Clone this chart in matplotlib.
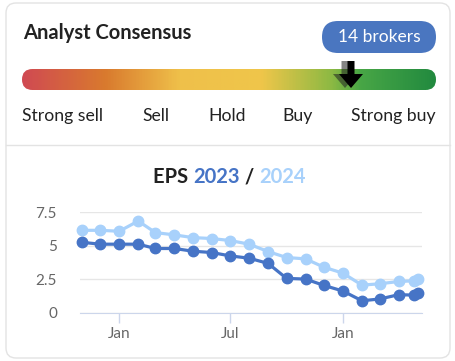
import matplotlib
matplotlib.use("Agg")
import matplotlib.pyplot as plt
from matplotlib.patches import FancyBboxPatch, Polygon
from matplotlib.colors import LinearSegmentedColormap
import numpy as np

plt.rcParams['font.family'] = ['Lato', 'DejaVu Sans']

# data
dates = np.array(['2022-11-01', '2022-12-01', '2023-01-01', '2023-02-01', '2023-03-01',
                  '2023-04-01', '2023-05-01', '2023-06-01', '2023-07-01', '2023-08-01',
                  '2023-09-01', '2023-10-01', '2023-11-01', '2023-12-01', '2024-01-01',
                  '2024-02-01', '2024-03-01', '2024-04-01', '2024-04-26', '2024-05-03'],
                 dtype='datetime64[D]')
eps_2023 = [5.25, 5.11, 5.11, 5.11, 4.79, 4.79, 4.59, 4.49, 4.24, 4.07,
            3.68, 2.57, 2.52, 2.05, 1.63, 0.91, 1.04, 1.36, 1.33, 1.48]
eps_2024 = [6.14, 6.14, 6.07, 6.83, 5.97, 5.80, 5.60, 5.53, 5.38, 5.11,
            4.56, 4.12, 4.02, 3.40, 2.96, 2.07, 2.17, 2.34, 2.39, 2.52]
rating_labels = ['Strong sell', 'Sell', 'Hold', 'Buy', 'Strong buy']
brokers = 14

dark = '#4674c6'
light = '#a8d1fb'
pill = '#4a76c0'

W, H = 456, 361
fig = plt.figure(figsize=(W / 100, H / 100), dpi=100)
PT = 72 / 100  # points per pixel

# overlay axes in pixel coordinates
bg = fig.add_axes([0, 0, 1, 1])
bg.set_xlim(0, W)
bg.set_ylim(H, 0)
bg.axis('off')

card = FancyBboxPatch((6, 3), 444, 355, boxstyle='round,pad=0,rounding_size=10',
                      fc='white', ec='#e3e3e3', lw=1)
bg.add_patch(card)
bg.plot([6, 450], [145, 145], color='#e3e3e3', lw=1)

bg.text(23, 39, 'Analyst Consensus', fontsize=14.5, fontweight='bold', color='#222222',
        va='baseline')

pill_box = FancyBboxPatch((322, 21), 114, 32, boxstyle='round,pad=0,rounding_size=16',
                          fc=pill, ec='none')
bg.add_patch(pill_box)
bg.text(379, 37.5, '%d brokers' % brokers, fontsize=12.5, color='white', ha='center',
        va='center')

# gradient bar
cmap = LinearSegmentedColormap.from_list('cons', [
    (0.0, '#d04a52'), (0.2, '#d97a2e'), (0.38, '#efc04a'), (0.58, '#efc64a'),
    (0.75, '#8cb943'), (0.82, '#48a646'), (1.0, '#228a3f')])
grad = np.linspace(0, 1, 400).reshape(1, -1)
im = bg.imshow(grad, cmap=cmap, extent=[22, 436, 90, 69], aspect='auto', zorder=2)
bar_clip = FancyBboxPatch((22, 69), 414, 21, boxstyle='round,pad=0,rounding_size=10.5',
                          fc='none', ec='none', transform=bg.transData)
bg.add_patch(bar_clip)
im.set_clip_path(bar_clip)


def arrow(cx, color, alpha):
    pts = [(cx - 3.5, 61), (cx + 3.5, 61), (cx + 3.5, 74), (cx + 12, 74), (cx, 88),
           (cx - 12, 74), (cx - 3.5, 74)]
    bg.add_patch(Polygon(pts, closed=True, fc=color, ec='none', alpha=alpha, zorder=3))


arrow(345, '#222222', 0.55)
arrow(351, 'black', 1.0)

label_x = [22, 156, 227, 298, 436]
label_ha = ['left', 'center', 'center', 'center', 'right']
for lab, x, ha in zip(rating_labels, label_x, label_ha):
    bg.text(x, 121, lab, fontsize=12.7, color='#222222', ha=ha, va='baseline')

# title in pieces
renderer = fig.canvas.get_renderer()
parts = [('EPS ', '#222222'), ('2023', dark), (' / ', '#222222'), ('2024', light)]
objs = []
for s, c in parts:
    t = bg.text(0, 183, s, fontsize=14.5, fontweight='bold', color=c, va='baseline')
    objs.append(t)
widths = [t.get_window_extent(renderer).width for t in objs]
x0 = 229.5 - sum(widths) / 2
for t, w in zip(objs, widths):
    t.set_x(x0)
    x0 += w

# line chart
ax = fig.add_axes([80 / W, (H - 313) / H, 342 / W, 101 / H])
ax.set_zorder(5)
ax.patch.set_visible(False)
ax.plot(dates, eps_2024, color=light, lw=2.3, marker='o', ms=7.5, clip_on=False, zorder=3)
ax.plot(dates, eps_2023, color=dark, lw=2.3, marker='o', ms=7.5, clip_on=False, zorder=4)
ax.set_ylim(0, 7.5)
ax.set_xlim(np.datetime64('2022-10-29'), np.datetime64('2024-05-09'))
ax.set_yticks([0, 2.5, 5, 7.5])
ax.set_yticklabels(['0', '2.5', '5', '7.5'])
ax.set_xticks(np.array(['2023-01-01', '2023-07-01', '2024-01-01'], dtype='datetime64[D]'))
ax.set_xticklabels(['Jan', 'Jul', 'Jan'])
ax.grid(axis='y', color='#e6e6e6', lw=1)
ax.set_axisbelow(True)
for s in ['top', 'right', 'left']:
    ax.spines[s].set_visible(False)
ax.spines['bottom'].set_color('#ccd6eb')
ax.tick_params(axis='y', length=0, pad=23 * PT, labelsize=11, labelcolor='#666666')
ax.tick_params(axis='x', length=10 * PT, width=1, color='#ccd6eb', pad=4 * PT,
               labelsize=11, labelcolor='#666666')

fig.savefig('out.png', dpi=100)
